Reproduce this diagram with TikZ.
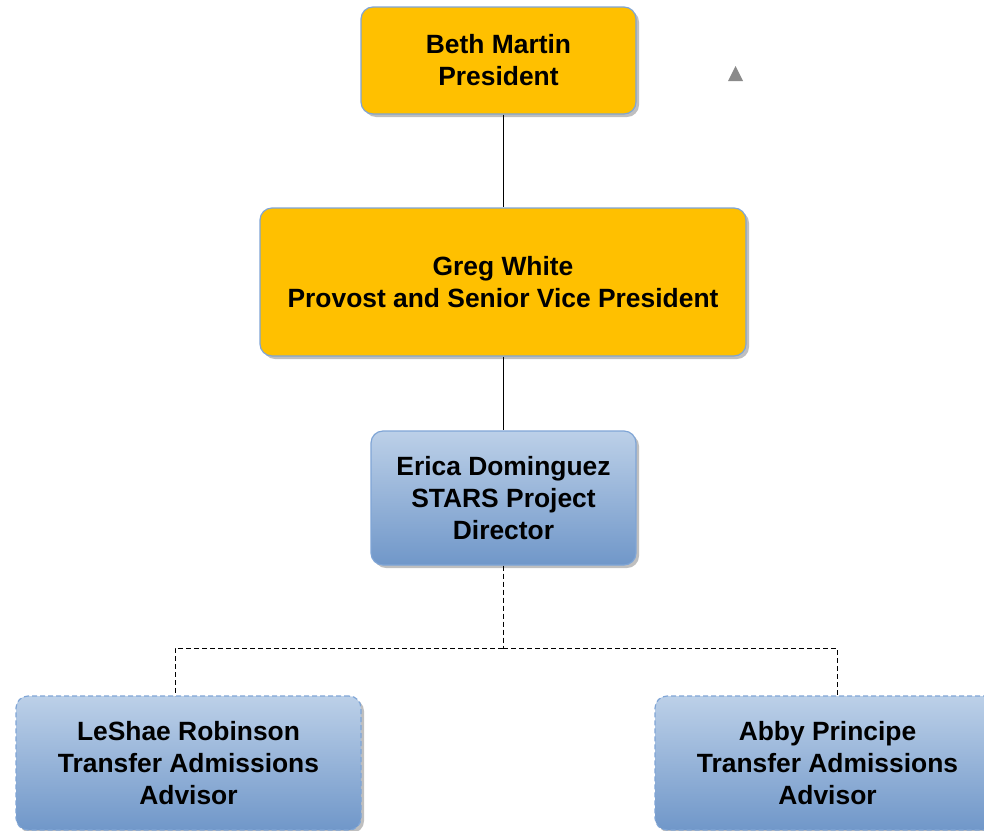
\documentclass[tikz,border=0pt]{standalone}
\usepackage{fontspec}
\setmainfont{Liberation Sans}
\usetikzlibrary{shadows}
\definecolor{gold}{HTML}{FFC000}
\definecolor{edgeblue}{HTML}{7FA5D6}
\definecolor{topblue}{HTML}{BCD0E8}
\definecolor{botblue}{HTML}{7097C9}
\definecolor{markgray}{HTML}{8A8A8A}
\tikzset{
  box/.style={draw=edgeblue, line width=1.2pt, rounded corners=12pt, align=center,
    font=\bfseries\fontsize{26.4}{32}\selectfont, inner sep=0pt,
    drop shadow={shadow xshift=3pt, shadow yshift=-3pt, fill=black, opacity=0.25}},
  leadbox/.style={box, fill=gold},
  staffbox/.style={box, top color=topblue, bottom color=botblue},
  advisorbox/.style={staffbox, dashed, dash pattern=on 5pt off 3pt},
  link/.style={line width=1pt},
  dashlink/.style={link, dash pattern=on 5pt off 3pt},
}
\begin{document}
\begin{tikzpicture}[x=1pt,y=-1pt]
\useasboundingbox (0,0) rectangle (984,830);
% leaders
\node[leadbox, minimum width=275pt, minimum height=107pt] (beth) at (498.5,60.5) {Beth Martin\\President};
\node[leadbox, minimum width=486pt, minimum height=148pt] (greg) at (503,282) {Greg White\\Provost and Senior Vice President};
\node[staffbox, minimum width=265pt, minimum height=134pt] (erica) at (503.5,498) {Erica Dominguez\\STARS Project\\Director};
% advisors
\node[advisorbox, minimum width=345pt, minimum height=134pt] (leshae) at (188.5,763) {LeShae Robinson\\Transfer Admissions\\Advisor};
\node[advisorbox, minimum width=345pt, minimum height=134pt] (abby) at (827.5,763) {Abby Principe\\Transfer Admissions\\Advisor};
\coordinate (hub) at (503,648);
\coordinate (dropL) at (175,696);
\coordinate (dropR) at (837,696);
% connectors
\draw[link] (beth.south -| greg.north) -- (greg.north);
\draw[link] (greg.south) -- (greg.south |- erica.north);
\draw[dashlink] (erica.south -| hub) -- (hub);
\draw[dashlink] (hub) -| (dropL);
\draw[dashlink] (hub) -| (dropR);
% marker
\fill[markgray] (728,81) -- (743,81) -- (735.5,66) -- cycle;
\end{tikzpicture}
\end{document}
